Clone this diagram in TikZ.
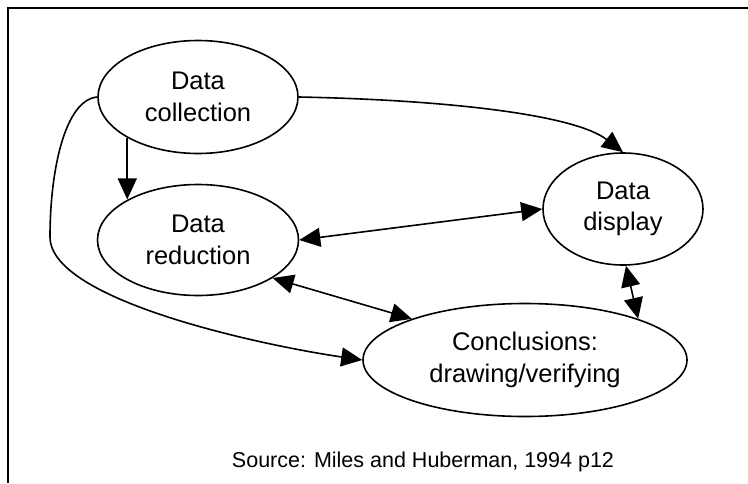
\documentclass[tikz,border=0pt]{standalone}
\usepackage{fontspec}
\setmainfont{Liberation Sans}
\usetikzlibrary{arrows.meta,shapes.geometric}
\begin{document}
\begin{tikzpicture}[x=1pt,y=-1pt,
  stage/.style={ellipse,draw,line width=1.6pt,align=center,inner sep=0pt,
    font=\fontsize{25.5}{31.5}\selectfont},
  link/.style={line width=1.6pt,-{Triangle[length=21pt,width=19pt]}},
  both/.style={line width=1.6pt,{Triangle[length=21pt,width=19pt]}-{Triangle[length=21pt,width=19pt]}}]
\useasboundingbox (0,0) rectangle (748,483);
% frame: top and left rules
\draw[line width=2.6pt] (8,483) -- (8,8) -- (748,8);

% stages
\node[stage,minimum width=200pt,minimum height=113pt] (col) at (198,97) {Data\\collection};
\node[stage,minimum width=201pt,minimum height=111pt] (red) at (198,240) {Data\\reduction};
\node[stage,minimum width=160pt,minimum height=112pt] (disp) at (623,209) {Data\\display};
\node[stage,minimum width=324pt,minimum height=113pt] (conc) at (525,360) {Conclusions:\\drawing/verifying};

% connectors
\draw[link] (col.210) -- (col.210 |- red.150);
\draw[link] (col.east) .. controls (450,100) and (575,115) .. (disp.90);
\draw[both] (red.east) -- (disp.west);
\draw[both] (red.333) -- (conc.160);
\draw[both] (disp.273) -- (conc.20);
\draw[link] (col.west) .. controls (65,100) and (50,170) .. (50,237)
  .. controls (50,300) and (260,345) .. (conc.west);

% source note
\node[font=\fontsize{21.5}{26}\selectfont,anchor=base] (src) at (423,467) {Source: Miles and Huberman, 1994 p12};
\end{tikzpicture}
\end{document}
